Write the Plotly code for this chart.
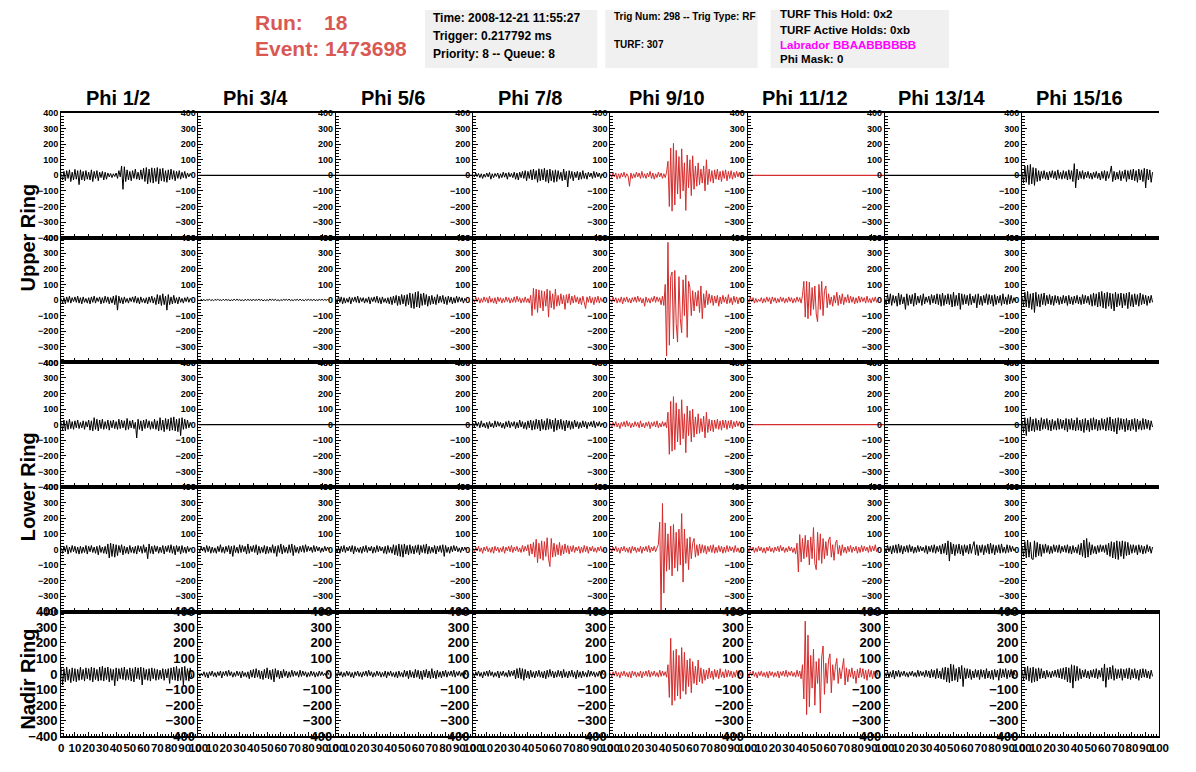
import plotly.graph_objects as go

# page is 1196x772; the html body has an 8px margin, so the figure is sized to fit inside it
PAGE_W, PAGE_H, OFF = 1196, 772, 8
FW, FH = PAGE_W - 2 * OFF, PAGE_H - 2 * OFF
# empirical correction between layout pixels and the photographed page
AX, BX, AY, BY = 0.987, 4.0, 0.981, 7.1

# ---------------- data ----------------
times = list(range(96))          # ns, one sample per ns
flat_t = [0, 100]
flat_v = [0, 0]

phi_titles = ["Phi 1/2", "Phi 3/4", "Phi 5/6", "Phi 7/8",
              "Phi 9/10", "Phi 11/12", "Phi 13/14", "Phi 15/16"]
ring_labels = ["Upper Ring", "Lower Ring", "Nadir Ring"]
y_ticks = [-400, -300, -200, -100, 0, 100, 200, 300, 400]
x_ticks = [0, 10, 20, 30, 40, 50, 60, 70, 80, 90, 100]

r0c0 = [10,-30,25,-35,30,-20,35,-40,20,-30,
        38,-25,30,-60,35,-30,25,-35,30,-25,
        20,-30,35,-40,25,-20,30,-35,20,-15,
        25,-30,20,-25,15,-10,12,-15,10,-8,
        15,-20,30,-10,60,-90,55,-40,35,-30,
        25,-35,30,-20,40,-25,20,-30,35,-25,
        45,-40,50,-55,40,-45,48,-50,45,-40,
        50,-55,42,-35,45,-40,30,-45,35,-30,
        40,-25,30,-35,25,-20,30,-25,20,-15,
        25,-20,15,-10,12,-5]
r0c3 = [5,-10,15,-8,12,-15,10,-20,8,-12,
        15,-10,18,-25,10,-15,12,-8,15,-20,
        10,-15,20,-12,15,-25,18,-10,12,-15,
        20,-25,15,-30,20,-15,25,-20,30,-35,
        25,-20,35,-30,40,-25,30,-45,42,-35,
        38,-30,45,-40,35,-50,40,-35,30,-45,
        35,-40,30,-25,20,-35,40,-30,25,-75,
        30,-20,25,-35,20,-15,25,-30,20,-25,
        30,-20,15,-25,20,-10,15,-20,25,-15,
        20,-10,15,-20,10,-5]
r0c4 = [10,-15,20,-10,15,-25,10,-20,15,-10,
        20,-15,10,-5,-70,15,-20,10,-15,20,
        -10,15,-20,25,-15,10,-20,15,-10,25,
        -20,15,-25,10,-15,20,-10,15,-20,10,
        -15,20,90,-200,175,-230,205,-190,160,-120,
        120,-150,170,-100,80,-225,130,-80,100,-130,
        125,-90,60,-70,80,-60,40,-50,60,-100,
        100,-60,40,-40,30,-50,35,-25,40,-30,
        25,-40,30,-20,35,-35,25,-20,30,-25,
        20,-15,25,-10,20,-15]
r0c7 = [20,-50,60,-45,65,-60,70,-55,50,-65,
        45,-40,30,-35,25,-20,30,-25,20,-30,
        25,-15,30,-20,25,-30,35,-20,20,-25,
        30,-20,25,-30,35,-25,30,-40,75,-80,
        40,-30,25,-20,30,-25,20,-15,25,-20,
        15,-25,20,-15,25,-20,15,-30,25,-20,
        30,-35,25,-20,15,60,-40,25,-30,20,
        -25,30,-35,25,-20,35,-40,30,-25,35,
        -30,40,-35,30,-45,40,-30,35,-40,45,
        -80,40,-30,35,-45,20]

r1c0 = [10,-20,15,-25,20,-15,25,-20,15,-10,
        20,-15,25,-20,15,-25,20,-15,10,-20,
        15,-25,20,-15,25,-20,15,-10,20,-25,
        15,-20,25,-15,20,-25,15,-20,25,-30,
        30,-65,25,-20,15,-25,20,-15,10,-20,
        15,-10,20,-15,25,-20,15,-25,20,-15,
        10,-20,15,-25,20,-15,25,-20,15,-30,
        35,-25,30,-35,40,-30,25,-65,35,-30,
        20,-25,30,-20,15,-25,20,-15,10,-20,
        15,-10,20,-15,10,-5]
r1c1 = [2,-4,5,-3,4,-6,3,-2,5,-4,
        3,-5,4,-2,6,-3,2,-4,5,-3,
        4,-2,3,-5,2,-4,6,-3,5,-2,
        3,-4,2,-6,5,-3,4,-2,3,-5,
        6,-4,3,-2,5,-3,4,-6,2,-4,
        3,-5,6,-2,4,-3,5,-4,2,-6,
        3,-4,5,-2,4,-3,6,-5,2,-4,
        3,-2,5,-4,6,-3,2,-5,4,-3,
        5,-2,3,-4,6,-5,2,-3,4,-2,
        5,-3,4,-2,3,-1]
r1c2 = [10,-20,25,-15,20,-25,15,-20,10,-15,
        20,-25,15,-10,20,-15,25,-20,15,-10,
        15,-20,10,-15,20,-25,15,-10,20,-15,
        25,-20,15,-25,20,-15,10,-20,15,-25,
        20,-30,25,-20,30,-35,25,-30,35,-25,
        30,-40,35,-30,45,-50,40,-55,50,-45,
        55,-50,40,-35,45,-30,35,-40,25,-30,
        30,-25,20,-30,35,-20,25,-15,30,-25,
        20,-30,25,-15,20,-25,15,-20,25,-15,
        20,-10,15,-20,10,-5]
r1c3 = [10,-15,20,-10,15,-20,10,-15,20,-10,
        15,-20,25,-15,10,-20,15,-25,20,-10,
        15,-20,10,-15,20,-10,15,-20,10,-15,
        20,-15,25,-10,15,-20,10,-15,20,-15,
        10,-20,30,-100,75,-60,70,-80,65,-50,
        60,-70,55,-40,70,-110,60,-50,40,-60,
        70,-40,30,-35,40,-25,30,-60,35,-20,
        40,-30,25,-20,30,-15,20,-25,15,-30,
        25,-20,-55,20,-15,25,-20,15,-30,20,
        -15,25,-20,15,-10,5]
r1c4 = [10,-15,20,-10,15,-20,10,-15,20,-25,
        15,-10,20,-15,10,-20,15,-10,20,-15,
        25,-10,15,-20,10,-40,20,-15,10,-20,
        15,-10,25,-15,20,-10,15,-30,25,-35,
        100,-360,370,-290,150,180,-250,190,-150,-270,
        150,-120,-210,130,-100,160,-240,120,80,-100,
        60,-70,50,-40,60,-80,90,-120,40,-50,
        60,-30,40,-20,30,-35,25,-20,30,-40,
        20,-25,30,-15,20,-25,35,-20,15,-30,
        25,-15,20,-25,15,-10]
r1c5 = [10,-15,20,-10,15,-20,10,-15,5,-10,
        15,-20,10,-15,20,-10,15,-25,20,-10,
        15,-20,10,-15,20,-10,15,-20,10,-15,
        20,-10,15,-20,10,-15,20,-10,15,-20,
        30,120,-110,120,-120,115,-100,80,-60,90,
        -90,-140,100,-60,120,-100,60,90,-50,40,
        -30,20,-40,30,-20,50,-35,30,-25,40,
        -30,20,-15,35,-20,25,-15,20,-25,15,
        -20,25,-15,20,-10,15,-20,25,-15,10,
        -20,15,-10,20,-15,5]
r1c6 = [10,-30,35,-25,40,-35,30,-20,25,-40,
        45,-30,35,-25,20,-60,40,-35,30,-25,
        35,-40,45,-30,25,-20,30,-35,40,-25,
        20,-15,25,-30,35,-20,30,-25,40,-30,
        35,-40,45,-35,30,-25,40,-30,35,-45,
        50,-40,30,-35,45,-60,40,-30,35,-25,
        30,-35,40,-30,25,-20,35,-50,40,-30,
        25,-35,30,-20,40,-30,35,-25,30,-40,
        35,-30,25,-20,30,-35,40,-25,20,-30,
        35,-25,30,-20,15,-10]
r1c7 = [20,-40,50,-45,55,-50,40,-60,45,-80,
        50,-40,35,-45,40,-30,45,-35,30,-25,
        35,-30,25,-35,30,-20,25,-30,20,-25,
        30,-20,25,-35,30,-25,20,-30,25,-20,
        30,-25,20,-30,35,-25,30,-20,25,-30,
        35,-40,45,-35,40,-45,50,-40,55,-50,
        45,-55,50,-40,45,-55,40,-70,50,-45,
        40,-35,45,-50,40,-35,45,-55,50,-40,
        35,-45,40,-30,35,-40,45,-30,35,-25,
        30,-35,25,-20,30,-15]

r2c0 = [15,-35,30,-40,25,-30,35,-25,20,-30,
        25,-20,30,-25,15,-20,25,-30,20,-15,
        30,-35,25,-40,45,-30,35,-40,30,-25,
        35,-30,20,-25,30,-35,25,-20,30,-25,
        20,-30,35,-25,30,-20,25,-35,40,-30,
        25,-20,30,-25,15,-85,35,-30,25,-40,
        30,-25,35,-20,25,-30,20,-25,35,-30,
        25,-40,45,-35,30,-45,40,-30,35,-40,
        45,-35,50,-40,35,-45,40,-70,45,-30,
        35,-25,30,-20,15,-10]
r2c3 = [10,-15,20,-10,15,-20,25,-15,10,-20,
        15,-25,20,-15,10,-20,25,-15,20,-10,
        15,-20,10,-25,20,-15,25,-20,15,-10,
        20,-25,15,-20,30,-15,20,-25,15,-30,
        25,-20,30,-35,25,-30,35,-25,30,-40,
        35,-30,25,-35,40,-30,35,-25,30,-45,
        40,-35,30,-25,35,-30,25,-40,30,-20,
        25,-30,20,-25,30,-15,20,-25,15,-20,
        25,-15,20,-25,15,-10,20,-15,25,-20,
        15,-10,20,-15,10,-5]
r2c4 = [10,-20,15,-10,20,-15,10,-25,15,-10,
        20,-15,25,-10,15,-20,10,-15,20,-10,
        15,-20,25,-15,10,-20,15,-10,20,-25,
        15,-10,20,-15,25,-20,10,-15,20,-10,
        15,-20,80,-190,150,-170,180,-160,140,-110,
        100,-130,160,-90,70,-180,120,-70,90,-110,
        100,-80,50,-60,70,-55,40,-45,55,-85,
        80,-50,35,-40,30,-45,30,-25,35,-30,
        25,-35,30,-20,30,-30,25,-20,30,-25,
        20,-15,25,-10,20,-10]
r2c7 = [25,-50,45,-70,40,-45,50,-40,35,-45,
        40,-35,30,-40,45,-30,35,-25,40,-35,
        30,-40,35,-30,25,-35,40,-30,35,-25,
        30,-35,40,-45,35,-30,40,-35,30,-40,
        45,-35,30,-40,35,-50,40,-35,30,-45,
        40,-35,45,-30,35,-40,30,-35,40,-30,
        35,-40,45,-35,50,-40,35,-45,40,-60,
        45,-35,40,-30,35,-45,40,-35,30,-40,
        35,-30,40,-45,35,-30,25,-35,40,-30,
        35,-25,30,-35,25,-15]

r3c0 = [10,-25,20,-15,25,-30,15,-20,25,-15,
        20,-25,15,-30,20,-25,15,-20,25,-30,
        20,-15,25,-20,15,-25,20,-35,25,-20,
        15,-25,20,-30,35,-55,40,-45,35,-50,
        30,-40,25,-20,30,-35,20,-25,15,-30,
        25,-20,15,-25,20,-30,25,-15,20,-25,
        30,-20,15,-60,35,-25,20,-30,25,-15,
        20,-25,15,-20,25,-30,20,-15,25,-20,
        30,-25,20,-35,25,-15,20,-30,25,-20,
        15,-25,20,-15,10,-5]
r3c1 = [5,-15,20,-10,15,-20,25,-15,20,-25,
        15,-20,10,-25,20,-15,30,-20,15,-25,
        20,-15,25,-30,20,-45,25,-20,15,-25,
        30,-20,25,-15,20,-30,35,-25,20,-15,
        25,-20,30,-35,20,-25,15,-20,25,-30,
        20,-25,15,-20,30,-25,20,-45,25,-20,
        35,-30,25,-20,15,-25,30,-20,35,-40,
        25,-20,15,-25,20,-15,25,-20,30,-15,
        20,-10,15,-20,25,-15,20,-10,15,-20,
        10,-15,20,-10,15,-5]
r3c2 = [10,-20,15,-25,20,-15,25,-20,15,-10,
        20,-15,25,-30,20,-15,10,-20,15,-25,
        20,-15,25,-20,15,-10,20,-25,15,-20,
        25,-15,20,-10,15,-25,20,-30,25,-20,
        15,-25,30,-35,25,-40,35,-45,30,-50,
        35,-30,25,-35,30,-25,20,-30,25,-20,
        30,-35,25,-20,30,-25,35,-30,20,-25,
        15,-20,25,-30,20,-15,25,-20,30,-45,
        25,-20,15,-25,20,-15,25,-10,20,-15,
        10,-20,15,-10,15,-5]
r3c3 = [10,-20,15,-10,20,-15,10,-25,15,-10,
        20,-15,10,-20,15,-25,20,-10,15,-20,
        10,-15,20,-25,15,-10,20,-15,25,-20,
        15,-10,20,-15,10,-20,25,-15,20,-10,
        30,-40,35,-30,45,-50,65,-85,40,-60,
        55,-70,50,-45,75,-60,-110,70,-50,40,
        -45,30,-35,45,-40,25,-30,35,-20,25,
        -30,20,-15,25,-20,15,-10,20,-25,15,
        -20,25,-15,20,-25,15,-10,20,-15,10,
        -20,15,-10,20,-15,5]
r3c4 = [10,-20,15,-10,20,-15,10,-25,15,-10,
        20,-15,10,-20,15,-25,20,-10,15,-20,
        10,-15,20,-25,15,-10,20,-15,25,-20,
        15,-10,20,-15,10,30,175,-400,295,-280,
        170,-140,100,-130,150,-170,160,-120,110,-140,
        130,-100,230,-210,130,-90,70,-130,80,-60,
        40,70,-50,30,-40,35,-25,30,-20,25,
        -30,20,-15,25,-20,30,-25,15,-20,25,
        -15,20,-25,15,-20,25,-15,20,-10,15,
        -20,25,-15,10,-20,5]
r3c5 = [10,-15,20,-10,15,-20,10,-15,20,-10,
        15,-20,10,-25,15,-10,20,-15,10,-20,
        15,-10,20,-15,25,-10,15,-20,10,-15,
        20,-10,15,-20,10,-30,40,-145,95,-80,
        70,-60,90,-50,60,-100,80,-60,140,-90,
        -130,110,-70,100,-90,70,-60,50,-40,60,
        80,-50,30,-70,40,60,-30,25,-40,30,
        -20,15,-25,20,-15,25,-20,15,-10,20,
        -25,15,-20,25,-15,20,-10,15,-20,25,
        -15,20,-10,30,-15,10]
r3c6 = [10,-20,25,-15,20,-30,25,-20,30,-25,
        35,-20,25,-30,20,-15,25,-20,30,-15,
        20,-25,15,-20,25,-15,20,-10,15,-20,
        25,-30,20,-15,25,-20,30,-25,20,-15,
        25,-30,35,-25,40,-35,55,-75,45,-30,
        35,-40,30,-25,35,-30,25,-40,30,-20,
        25,-30,35,-25,20,50,-35,30,-40,25,
        -20,30,-35,25,-20,35,-30,40,-25,30,
        -35,25,-20,30,-25,35,-20,15,-25,30,
        -20,25,-15,20,-10,5]
r3c7 = [20,-45,50,-55,60,-50,45,-60,-65,55,
        -50,45,-40,35,-45,30,-25,35,-20,25,
        -30,20,-25,30,-15,25,-20,30,-25,20,
        -15,25,-20,30,-25,20,-30,25,-20,15,
        -25,30,-35,40,-45,60,-55,70,-50,45,
        -35,30,-25,20,-30,25,-20,30,-15,25,
        -20,30,-35,40,-45,50,-55,45,-60,55,
        -65,50,-45,55,-60,50,-40,45,-35,30,
        -25,30,-20,25,-35,30,-20,25,-30,20,
        -25,30,-15,20,-25,15]

r4c0 = [40,-70,35,-50,45,-40,30,-55,40,-45,
        35,-50,30,-40,45,-35,30,-45,40,-30,
        35,-40,45,-50,40,-35,30,-45,45,-40,
        50,-45,40,-35,45,-50,35,-40,30,-75,
        40,-45,35,-30,40,-35,45,-40,30,-35,
        40,-45,35,-50,45,-30,40,-35,45,-70,
        40,-35,30,-40,35,-45,40,-30,35,-40,
        30,-35,25,-30,35,-40,30,-25,35,-60,
        40,-35,45,-40,50,-45,35,-40,45,-70,
        50,-40,35,-45,40,-20]
r4c1 = [10,-15,5,-10,15,-20,10,-25,15,-10,
        20,-15,10,-20,15,-10,20,-25,15,-10,
        20,-15,25,-10,15,-20,10,-15,20,-10,
        15,-25,20,-15,10,-20,15,-30,25,-20,
        30,-25,35,-20,25,-30,20,-35,30,-25,
        40,-30,25,-35,30,-50,35,-20,25,-30,
        20,-25,30,-15,20,-25,15,-20,25,-15,
        20,-10,15,-20,25,-15,20,-10,15,-20,
        10,-15,20,-10,15,-20,10,-15,20,-10,
        15,-10,5,-10,15,-5]
r4c2 = [10,-15,20,-10,15,-20,10,-15,20,-10,
        15,-20,10,-25,15,-10,20,-15,10,-20,
        15,-10,20,-15,25,-10,15,-20,10,-15,
        20,-10,15,-20,10,-15,20,-25,15,-10,
        20,-15,10,-20,15,-25,20,-15,10,-20,
        25,-15,20,-30,25,-20,15,-25,30,-20,
        25,-30,20,-35,25,-20,30,-25,20,-30,
        35,-25,20,-30,25,-20,15,-25,20,-15,
        25,-20,15,-10,20,-15,25,-20,15,-10,
        20,-15,10,-20,15,-5]
r4c3 = [10,-20,15,-10,20,-15,10,-25,15,-10,
        20,-15,25,-10,15,-20,10,-15,20,-25,
        15,-10,20,-15,10,-20,25,-15,20,-10,
        25,-30,35,-25,40,-30,35,-40,30,-25,
        20,-30,25,-20,15,-25,20,-15,25,-20,
        15,-25,20,-30,25,-20,30,-15,20,-25,
        15,-20,25,-15,20,-25,30,-20,15,-25,
        20,-15,25,-20,15,-30,25,-20,15,-25,
        20,-15,10,-20,25,-15,20,-10,15,-20,
        10,-15,20,-10,15,-5]
r4c4 = [10,-20,15,-10,20,-15,10,-25,15,-10,
        20,-15,10,-20,15,-25,20,-10,15,-20,
        10,-15,20,-25,15,-10,20,-15,25,-20,
        15,-10,20,-15,10,-20,25,-15,20,-10,
        15,-20,60,-150,230,-200,150,-170,160,-140,
        120,-160,170,-110,140,-130,90,-80,100,-120,
        80,-60,50,-70,90,-50,40,-60,30,-40,
        25,-30,40,-25,20,-35,30,-20,25,-30,
        35,-20,15,-25,30,-20,25,-15,20,-25,
        15,-20,25,-10,20,-10]
r4c5 = [10,-20,15,-10,20,-15,10,-25,15,-10,
        20,-15,10,-20,15,-25,20,-10,15,-20,
        10,-15,20,-25,15,-10,20,-15,25,-20,
        15,-10,20,-15,10,-20,25,-15,20,-30,
        60,-160,340,-260,250,-210,120,-90,160,-200,
        80,-60,100,-250,110,180,-130,70,-60,90,
        130,-120,60,-40,50,100,-60,40,-30,50,
        100,-70,40,-50,30,-20,40,-30,20,-60,
        30,-25,40,-20,35,-30,25,-40,30,-20,
        25,-30,20,-15,25,-10]
r4c6 = [10,-15,20,-25,15,-20,25,-30,20,-15,
        25,-20,15,-10,20,-15,10,-20,15,-10,
        20,-15,10,-20,25,-15,20,-10,15,-20,
        25,-15,20,-25,30,-20,25,-30,35,-25,
        20,-30,40,-35,45,-50,40,-55,65,-45,
        60,-40,35,-50,45,-30,55,-80,40,-30,
        35,-25,30,-35,20,-25,30,-20,25,-35,
        30,-20,25,-30,35,-25,20,-30,25,-35,
        30,-20,25,-40,35,-25,30,-20,35,-30,
        25,-20,30,-25,15,-10]
r4c7 = [20,-40,45,-35,50,-45,40,-55,45,-50,
        35,-45,40,-30,35,-25,20,-30,25,-20,
        15,-25,20,-15,25,-20,30,-25,35,-30,
        40,-35,45,-50,40,-55,60,-90,55,-45,
        50,-40,35,-30,25,-20,30,-25,20,-30,
        25,-20,30,-25,35,-30,25,-20,40,-45,
        65,-85,40,-35,45,-30,55,-40,35,-30,
        30,-25,35,-40,30,-25,35,-30,40,-35,
        30,-25,35,-30,25,-40,30,-25,35,-20,
        30,-25,20,-30,25,-15]

# None = channel reading flat zero
waves = [
    [r0c0, None, None, r0c3, r0c4, None, None, r0c7],
    [r1c0, r1c1, r1c2, r1c3, r1c4, r1c5, r1c6, r1c7],
    [r2c0, None, None, r2c3, r2c4, None, None, r2c7],
    [r3c0, r3c1, r3c2, r3c3, r3c4, r3c5, r3c6, r3c7],
    [r4c0, r4c1, r4c2, r4c3, r4c4, r4c5, r4c6, r4c7],
]
triggered = [
    [0, 0, 0, 0, 1, 1, 0, 0],
    [0, 0, 0, 1, 1, 1, 0, 0],
    [0, 0, 0, 0, 1, 1, 0, 0],
    [0, 0, 0, 1, 1, 1, 0, 0],
    [0, 0, 0, 0, 1, 1, 0, 0],
]

# ---------------- style / geometry (target page pixels) ----------------
LEFT, COLW, TOP, ROWH = 62, 137, 113, 124.8
FONT = "Liberation Sans, Arial, Helvetica, sans-serif"
RED = "rgb(212,44,44)"


def pxx(px):
    d = (px - BX) / AX
    return (d - OFF) / FW


def pxy(py):
    d = (py - BY) / AY
    return 1 - (d - OFF) / FH


fig = go.Figure()
layout = {}
n = 0
for r in range(5):
    for c in range(8):
        n += 1
        sfx = "" if n == 1 else str(n)
        x0, x1 = pxx(LEFT + COLW * c), pxx(LEFT + COLW * (c + 1))
        ytop = TOP + ROWH * r
        y0, y1 = pxy(ytop + ROWH), pxy(ytop)
        bottom = (r == 4)
        ysize = 13 if bottom else 9
        layout["xaxis" + sfx] = dict(
            domain=[x0, x1], anchor="y" + sfx, range=[0, 100],
            tickmode="array", tickvals=x_ticks, tickangle=0,
            showticklabels=bottom,
            tickfont=dict(family=FONT, size=11.5, color="black", weight="bold"),
            ticks="inside", ticklen=4, tickcolor="black", tickwidth=1,
            minor=dict(dtick=2, ticks="inside", ticklen=2, tickcolor="black"),
            showline=True, linecolor="black", linewidth=2, mirror=True,
            showgrid=False, zeroline=False, fixedrange=True,
        )
        layout["yaxis" + sfx] = dict(
            domain=[y0, y1], anchor="x" + sfx, range=[-400, 400],
            tickmode="array", tickvals=y_ticks,
            tickfont=dict(family=FONT, size=ysize, color="black", weight="bold"),
            ticks="inside", ticklen=5, tickcolor="black", tickwidth=1,
            minor=dict(dtick=20, ticks="inside", ticklen=3, tickcolor="black"),
            showline=True, linecolor="black", linewidth=1,
            mirror=(bottom and c == 7),
            showgrid=False, zeroline=False, fixedrange=True,
        )
        v = waves[r][c]
        col = RED if triggered[r][c] else "black"
        if v is None:
            xs, ys, lw = flat_t, flat_v, 1.3
        else:
            xs, ys, lw = times[:len(v)], v, 1
        fig.add_trace(go.Scatter(
            x=xs, y=ys, xaxis="x" + sfx, yaxis="y" + sfx, mode="lines",
            line=dict(color=col, width=lw), hoverinfo="skip", showlegend=False,
        ))

ann = []
# column titles
for c, t in enumerate(phi_titles):
    ann.append(dict(x=pxx(119 + COLW * c), y=pxy(98), text=t, showarrow=False,
                    xref="paper", yref="paper", xanchor="center", yanchor="middle",
                    font=dict(family=FONT, size=20, color="black", weight="bold")))
# ring labels
for lbl, cy in zip(ring_labels, [237.5, 487.5, 680]):
    ann.append(dict(x=pxx(29), y=pxy(cy), text=lbl, textangle=-90, showarrow=False,
                    xref="paper", yref="paper", xanchor="center", yanchor="middle",
                    font=dict(family=FONT, size=20, color="black", weight="bold")))

HDR = "rgb(217,88,84)"
hdr = [("Run:", 253, 22), ("18", 322, 22), ("Event: 1473698", 253, 48)]
for t, x, y in hdr:
    ann.append(dict(x=pxx(x), y=pxy(y), text=t, showarrow=False, xref="paper", yref="paper",
                    xanchor="left", yanchor="middle",
                    font=dict(family=FONT, size=21, color=HDR, weight="bold")))

info = [
    ("Time: 2008-12-21 11:55:27", 431, 18, 12, "black"),
    ("Trigger: 0.217792 ms", 431, 36, 12, "black"),
    ("Priority: 8 -- Queue: 8", 431, 54, 12, "black"),
    ("Trig Num: 298 -- Trig Type: RF", 612, 16, 10, "black"),
    ("TURF: 307", 612, 44, 10, "black"),
    ("TURF This Hold: 0x2", 777, 14, 11.5, "black"),
    ("TURF Active Holds: 0xb", 777, 30, 11.5, "black"),
    ("Labrador BBAABBBBBB", 777, 45, 11.5, "#ff00ff"),
    ("Phi Mask: 0", 777, 59, 11.5, "black"),
]
for t, x, y, s, colr in info:
    ann.append(dict(x=pxx(x), y=pxy(y), text=t, showarrow=False, xref="paper", yref="paper",
                    xanchor="left", yanchor="middle",
                    font=dict(family=FONT, size=s, color=colr, weight="bold")))

shapes = []
for bx0, bx1 in [(425, 597), (605, 757), (770, 948)]:
    shapes.append(dict(type="rect", xref="paper", yref="paper",
                       x0=pxx(bx0), x1=pxx(bx1), y0=pxy(68), y1=pxy(10),
                       fillcolor="#f0f0f0", line=dict(width=0), layer="below"))

fig.update_layout(
    width=FW, height=FH, margin=dict(l=0, r=0, t=0, b=0),
    paper_bgcolor="white", plot_bgcolor="white", showlegend=False,
    annotations=ann, shapes=shapes, **layout,
)

fig.write_html("out.html")
